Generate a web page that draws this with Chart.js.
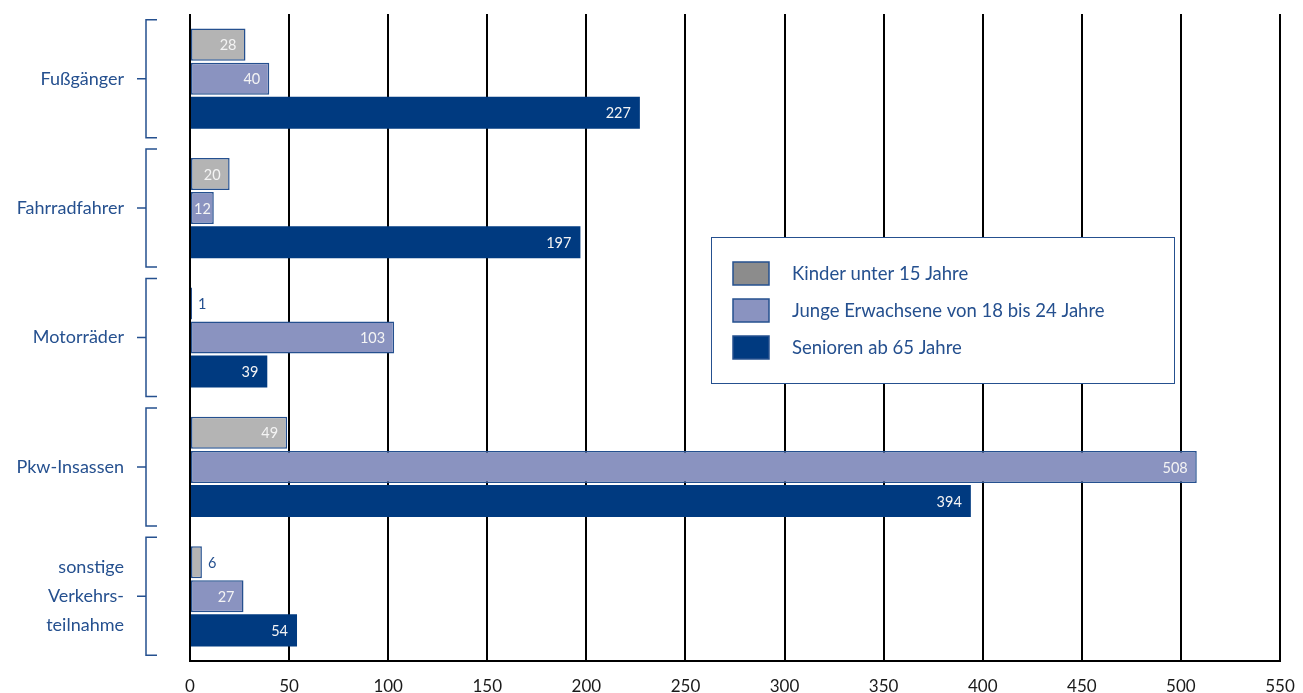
<!DOCTYPE html>
<html>
<head>
<meta charset="utf-8">
<script src="https://cdn.jsdelivr.net/npm/chart.js@4/dist/chart.umd.min.js"></script>
<style>
  html, body { margin: 0; padding: 0; background: #fff; }
  #wrap { width: 1303px; height: 693px; position: relative; }
</style>
</head>
<body>
<div id="wrap"><canvas id="chart"></canvas></div>
<script>
const categories = ['Fußgänger', 'Fahrradfahrer', 'Motorräder', 'Pkw-Insassen', ['sonstige', 'Verkehrs-', 'teilnahme']];
const seriesNames = ['Kinder unter 15 Jahre', 'Junge Erwachsene von 18 bis 24 Jahre', 'Senioren ab 65 Jahre'];
const kinder = [28, 20, 1, 49, 6];
const junge = [40, 12, 103, 508, 27];
const senioren = [227, 197, 39, 394, 54];
const xTicks = [0, 50, 100, 150, 200, 250, 300, 350, 400, 450, 500, 550];

const BLUE = '#25508f';
const FONT = 'Lato, "Noto Sans", sans-serif';
const barColors = ['#b4b4b4', '#8a93c0', '#003a80'];
const legendColors = ['#8c8c8c', '#8a93c0', '#003a80'];

// brackets on the left of every category + value labels on the bars
const decorPlugin = {
    id: 'decor',
    afterDatasetsDraw(chart) {
        const ctx = chart.ctx;
        const y = chart.scales.y;
        ctx.save();
        ctx.strokeStyle = BLUE;
        ctx.lineWidth = 1.5;
        categories.forEach((c, i) => {
            const cy = y.getPixelForValue(i);
            const half = 59;
            ctx.beginPath();
            ctx.moveTo(157, cy - half);
            ctx.lineTo(146, cy - half);
            ctx.lineTo(146, cy + half);
            ctx.lineTo(157, cy + half);
            ctx.moveTo(137, cy);
            ctx.lineTo(146, cy);
            ctx.stroke();
        });

        ctx.font = '14.5px ' + FONT;
        ctx.textBaseline = 'middle';
        chart.data.datasets.forEach((ds, di) => {
            const meta = chart.getDatasetMeta(di);
            meta.data.forEach((bar, i) => {
                const p = bar.getProps(['x', 'y', 'base'], true);
                const txt = String(ds.data[i]);
                const tw = ctx.measureText(txt).width;
                const w = p.x - p.base;
                if (w >= tw + 4) {
                    ctx.fillStyle = '#f4f4f4';
                    ctx.textAlign = 'right';
                    ctx.fillText(txt, Math.max(p.x - 9, p.base + 3 + tw), p.y + 1);
                } else {
                    ctx.fillStyle = BLUE;
                    ctx.textAlign = 'left';
                    ctx.fillText(txt, p.x + 6, p.y + 1);
                }
            });
        });
        ctx.restore();
    },
    afterDraw(chart) {
        const ctx = chart.ctx;
        ctx.save();
        const bx = 711, by = 237, bw = 463, bh = 146;
        ctx.fillStyle = '#ffffff';
        ctx.fillRect(bx, by, bw, bh);
        ctx.strokeStyle = BLUE;
        ctx.lineWidth = 1;
        ctx.strokeRect(bx + 0.5, by + 0.5, bw, bh);
        ctx.font = '18.5px ' + FONT;
        ctx.textBaseline = 'middle';
        ctx.textAlign = 'left';
        seriesNames.forEach((name, i) => {
            const ry = 262 + i * 37;
            ctx.fillStyle = legendColors[i];
            ctx.fillRect(733, ry, 36, 23);
            ctx.strokeStyle = BLUE;
            ctx.lineWidth = 1.5;
            ctx.strokeRect(733, ry, 36, 23);
            ctx.fillStyle = BLUE;
            ctx.fillText(name, 792, ry + 12);
        });
        ctx.restore();
    }
};

const datasets = [kinder, junge, senioren].map((vals, i) => ({
    label: seriesNames[i],
    data: vals,
    backgroundColor: barColors[i],
    borderColor: i < 2 ? BLUE : barColors[i],
    borderWidth: i < 2 ? 1.5 : 0,
    borderSkipped: false,
    categoryPercentage: 0.79,
    barPercentage: 0.94
}));

new Chart(document.getElementById('chart'), {
    type: 'bar',
    data: { labels: categories, datasets: datasets },
    options: {
        indexAxis: 'y',
        responsive: true,
        maintainAspectRatio: false,
        animation: false,
        layout: { padding: { top: 14, right: 23, left: 0, bottom: 0 } },
        plugins: {
            legend: { display: false },
            tooltip: { enabled: false }
        },
        scales: {
            x: {
                min: 0,
                max: 550,
                afterBuildTicks(scale) { scale.ticks = xTicks.map(v => ({ value: v })); },
                afterFit(scale) {
                    scale.height = 32;
                    scale.paddingLeft = 0;
                    scale.paddingRight = 0;
                },
                grid: { color: '#000', lineWidth: 2, drawTicks: false },
                border: { display: true, color: '#000', width: 2 },
                ticks: { color: '#1a1a1a', font: { family: FONT, size: 17 }, padding: 15 }
            },
            y: {
                afterFit(scale) {
                    scale.width = 190;
                    scale.paddingTop = 0;
                    scale.paddingBottom = 0;
                },
                grid: { display: false },
                border: { display: false },
                ticks: { color: BLUE, font: { family: FONT, size: 18, lineHeight: 1.6 }, padding: 58, crossAlign: 'near' }
            }
        }
    },
    plugins: [decorPlugin]
});
</script>
</body>
</html>
